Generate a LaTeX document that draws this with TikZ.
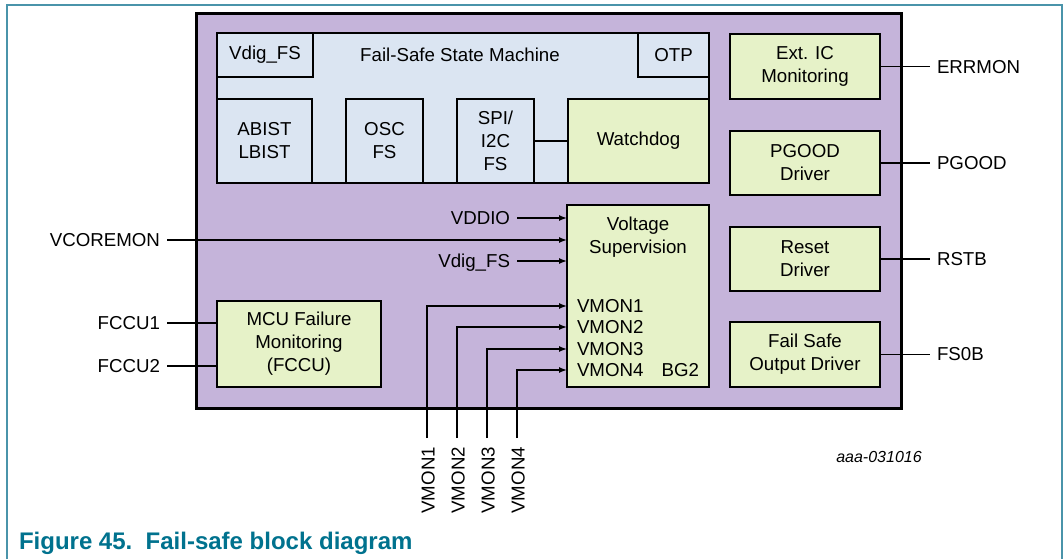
\documentclass[tikz,border=0pt]{standalone}
\usepackage{fontspec}
\setmainfont{Liberation Sans}
\usetikzlibrary{arrows.meta}
\definecolor{purp}{RGB}{197,180,218}
\definecolor{lblue}{RGB}{219,229,242}
\definecolor{lgreen}{RGB}{230,242,200}
\definecolor{framec}{RGB}{74,148,170}
\definecolor{capc}{RGB}{0,114,142}
\begin{document}
\begin{tikzpicture}[x=1pt,y=-1pt,
  every node/.style={font=\fontsize{18.7}{23}\selectfont, inner sep=0pt, outer sep=0pt},
  blk/.style={draw=black, line width=2.8pt, anchor=north west, align=center},
  bbox/.style={blk, fill=lblue},
  gbox/.style={blk, fill=lgreen},
  wire/.style={line width=1.4pt},
  arr/.style={wire, -{Latex[length=8pt,width=6pt]}},
  lbl/.style={text height=13.4pt, text depth=0pt}]
\useasboundingbox (0,0) rectangle (1064,559);
\fill[white] (0,0) rectangle (1064,559);
\draw[framec, line width=1.5pt] (7,559) -- (7,5) -- (1062,5) -- (1062,559);

% chip body
\node[blk, fill=purp, line width=3pt, minimum width=705pt, minimum height=394pt] (chip) at (196,14) {};

% fail-safe state machine
\node[bbox, minimum width=492pt, minimum height=150pt] (fsm) at (217,33) {};
\node[lbl] (fsmt) at (460,55) {Fail-Safe State Machine};
\node[bbox, minimum width=96pt, minimum height=44pt] (vdig) at (217,33) {Vdig\_FS};
\node[bbox, minimum width=71pt, minimum height=44pt] (otp) at (638,33) {OTP};
\node[bbox, minimum width=95pt, minimum height=84pt] (abist) at (217,99) {ABIST\\LBIST};
\node[bbox, minimum width=77pt, minimum height=84pt] (osc) at (346,99) {OSC\\FS};
\node[bbox, minimum width=77pt, minimum height=84pt] (spi) at (457,99) {SPI/\\I2C\\FS};
\node[gbox, minimum width=141pt, minimum height=84pt] (wd) at (568,99) {Watchdog};
\draw[wire] (spi.east) -- (wd.west);

% right column
\node[gbox, minimum width=150pt, minimum height=65pt] (ext) at (730,34) {Ext. IC\\Monitoring};
\node[gbox, minimum width=150pt, minimum height=64pt] (pg) at (730,131) {PGOOD\\Driver};
\node[gbox, minimum width=150pt, minimum height=64pt] (rst) at (730,227) {Reset\\Driver};
\node[gbox, minimum width=150pt, minimum height=65pt] (fso) at (730,322) {Fail Safe\\Output Driver};

\node[lbl, anchor=west] (errmon) at (937,67) {ERRMON};
\node[lbl, anchor=west] (pgood) at (937,163) {PGOOD};
\node[lbl, anchor=west] (rstb) at (937,259) {RSTB};
\node[lbl, anchor=west] (fs0b) at (937,354) {FS0B};
\draw[wire] (ext.east) -- ([xshift=-7pt]ext.east -| errmon.west);
\draw[wire] (pg.east) -- ([xshift=-7pt]pg.east -| pgood.west);
\draw[wire] (rst.east) -- ([xshift=-7pt]rst.east -| rstb.west);
\draw[wire] (fso.east) -- ([xshift=-7pt]fso.east -| fs0b.west);

% voltage supervision
\node[gbox, minimum width=142pt, minimum height=182pt] (vs) at (567,205) {};
\node[align=center] (vst) at (638,237) {Voltage\\Supervision};
\node[lbl, anchor=west] (t1) at (577,306) {VMON1};
\node[lbl, anchor=west] (t2) at (577,327) {VMON2};
\node[lbl, anchor=west] (t3) at (577,349) {VMON3};
\node[lbl, anchor=west] (t4) at (577,370) {VMON4};
\node[lbl, anchor=east] (bg2) at (699,370) {BG2};

\node[lbl, anchor=east] (vddio) at (510,218) {VDDIO};
\node[lbl, anchor=east] (vdigin) at (510,261) {Vdig\_FS};
\node[lbl, anchor=east] (vcore) at (160,240) {VCOREMON};
\draw[arr] ([xshift=7pt]vddio.east) -- (vddio.east -| vs.west);
\draw[arr] ([xshift=7pt]vdigin.east) -- (vdigin.east -| vs.west);
\draw[arr] ([xshift=7pt]vcore.east) -- (vcore.east -| vs.west);

% MCU failure monitoring
\node[gbox, minimum width=164pt, minimum height=86pt] (mcu) at (217,301) {MCU Failure\\Monitoring\\(FCCU)};
\node[lbl, anchor=east] (fccu1) at (160,323) {FCCU1};
\node[lbl, anchor=east] (fccu2) at (160,366) {FCCU2};
\draw[wire] ([xshift=7pt]fccu1.east) -- (fccu1.east -| mcu.west);
\draw[wire] ([xshift=7pt]fccu2.east) -- (fccu2.east -| mcu.west);

% VMON pins
\node[lbl, rotate=90, anchor=east] (l1) at (428,447) {VMON1};
\node[lbl, rotate=90, anchor=east] (l2) at (458,447) {VMON2};
\node[lbl, rotate=90, anchor=east] (l3) at (488,447) {VMON3};
\node[lbl, rotate=90, anchor=east] (l4) at (518,447) {VMON4};
\coordinate (p1) at (427,438);
\coordinate (p2) at (457,438);
\coordinate (p3) at (487,438);
\coordinate (p4) at (517,438);
\draw[arr] (p1) |- (t1.west -| vs.west);
\draw[arr] (p2) |- (t2.west -| vs.west);
\draw[arr] (p3) |- (t3.west -| vs.west);
\draw[arr] (p4) |- (t4.west -| vs.west);

\node[font=\fontsize{16}{19}\selectfont\itshape] (ref) at (879,457) {aaa-031016};
\node[anchor=base west, font=\fontsize{24}{28}\selectfont\bfseries, text=capc] (cap) at (19,549) {Figure 45.\ \ Fail-safe block diagram};
\end{tikzpicture}
\end{document}
